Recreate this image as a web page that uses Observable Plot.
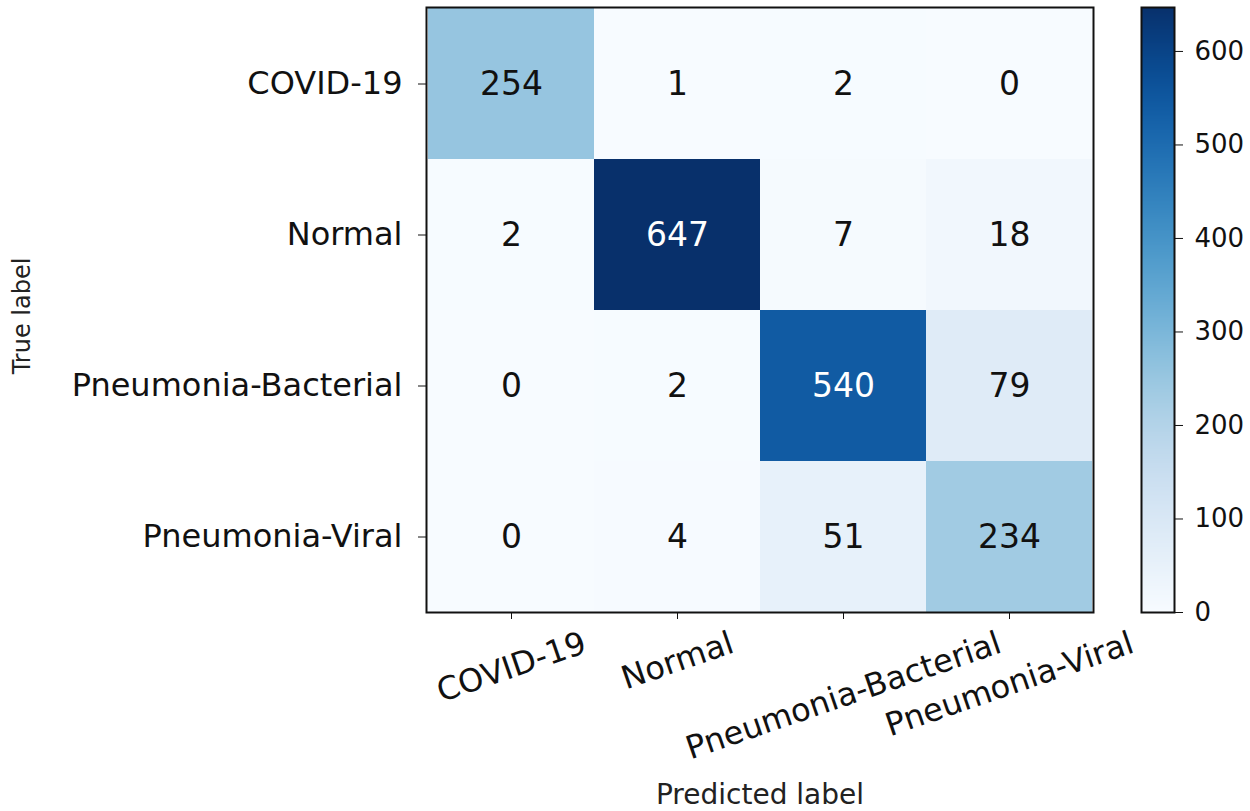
<!DOCTYPE html>
<html>
<head>
<meta charset="utf-8">
<script src="https://cdn.jsdelivr.net/npm/d3@7"></script>
<script src="https://cdn.jsdelivr.net/npm/@observablehq/plot@0.6"></script>
<style>
  html, body { margin: 0; padding: 0; background: #fff; }
  #wrap { position: relative; width: 1250px; height: 811px; }
  #wrap > svg { position: absolute; left: 0; top: 0; }
</style>
</head>
<body>
<div id="wrap"></div>
<script>
const classes = ["COVID-19", "Normal", "Pneumonia-Bacterial", "Pneumonia-Viral"];
const matrix = [
  [254, 1, 2, 0],
  [2, 647, 7, 18],
  [0, 2, 540, 79],
  [0, 4, 51, 234]
];
const colorTicks = [0, 100, 200, 300, 400, 500, 600];
const xTitle = "Predicted label";
const yTitle = "True label";

const cells = [];
matrix.forEach((row, i) => row.forEach((v, j) => cells.push({t: classes[i], p: classes[j], v})));
const vmax = d3.max(cells, d => d.v);

const FONT = "DejaVu Sans";
const W = 1250, H = 811;
const mL = 426, mR = W - 1093, mT = 7, mB = H - 612;

// measure text widths for rotated-label placement (matplotlib center rotation)
const ctx = document.createElement("canvas").getContext("2d");
const tickFS = 32;
ctx.font = `${tickFS}px "${FONT}"`;
const ROT = 19;
const ang = ROT * Math.PI / 180;
function rotOffset(s) {
  const w = ctx.measureText(s).width;
  const h = tickFS * 1.1;
  return 13 + (w * Math.sin(ang) + h * Math.cos(ang)) / 2;
}

const main = Plot.plot({
  width: W, height: H,
  marginLeft: mL, marginRight: mR, marginTop: mT, marginBottom: mB,
  style: {fontFamily: FONT, background: "white"},
  x: {type: "band", domain: classes, padding: 0, label: null},
  y: {type: "band", domain: classes, padding: 0, label: null},
  color: {type: "linear", scheme: "blues", domain: [0, vmax]},
  marks: [
    Plot.cell(cells, {x: "p", y: "t", fill: "v", inset: 0}),
    Plot.text(cells, {x: "p", y: "t", text: d => String(d.v), fill: d => d.v > vmax / 2 ? "white" : "#111", fontSize: 33}),
    Plot.frame({stroke: "#111", strokeWidth: 2}),
    Plot.axisY({tickSize: 8, tickPadding: 16, fontSize: tickFS, stroke: "#111", color: "#111", label: null}),
    Plot.axisX({tickSize: 7, tickFormat: () => "", stroke: "#111", label: null}),
    ...classes.map(c => Plot.text([c], {
      x: d => d, frameAnchor: "bottom", dy: rotOffset(c), text: d => d,
      rotate: -ROT, textAnchor: "middle", lineAnchor: "middle", fontSize: tickFS, fill: "#111"
    })),
    Plot.text([xTitle], {frameAnchor: "bottom", dy: 183, text: d => d, fontSize: 28, fill: "#222", lineAnchor: "middle"}),
    Plot.text([yTitle], {frameAnchor: "left", dx: -404, dy: 6, text: d => d, rotate: -90, fontSize: 24, fill: "#222", lineAnchor: "middle", textAnchor: "middle"})
  ]
});

const cbSteps = d3.range(0, Math.ceil(vmax)); // colour ramp of the scale, not data
const bar = Plot.plot({
  width: W, height: H,
  marginLeft: 1141, marginRight: W - 1174, marginTop: mT, marginBottom: mB,
  style: {fontFamily: FONT, background: "transparent"},
  y: {domain: [0, vmax], label: null},
  color: {type: "linear", scheme: "blues", domain: [0, vmax]},
  marks: [
    Plot.rect(cbSteps, {y1: d => d, y2: d => Math.min(d + 1.5, vmax), fill: d => d, shapeRendering: "crispEdges"}),
    Plot.frame({stroke: "#111", strokeWidth: 2}),
    Plot.axisY({anchor: "right", ticks: colorTicks, tickSize: 8, tickPadding: 12, fontSize: 26, stroke: "#111", color: "#111", label: null})
  ]
});

const wrap = document.getElementById("wrap");
wrap.appendChild(main);
wrap.appendChild(bar);
</script>
</body>
</html>
